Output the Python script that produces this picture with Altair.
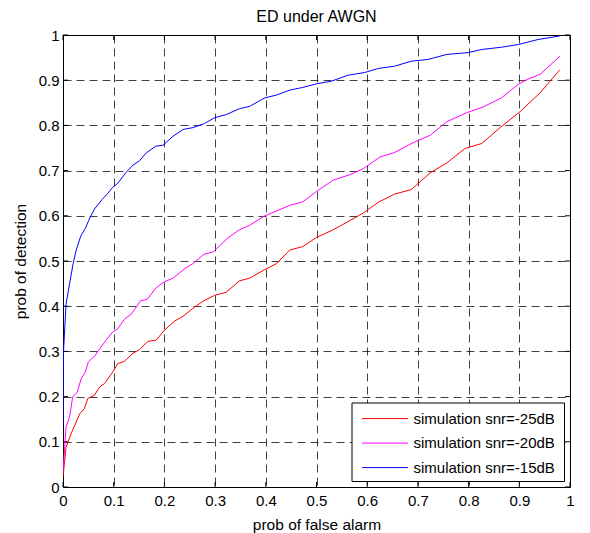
import altair as alt
import pandas as pd

red_x = [0, 0.006, 0.016, 0.033, 0.042, 0.049, 0.062, 0.072, 0.082, 0.098, 0.108, 0.121, 0.138, 0.151, 0.167,
         0.184, 0.200, 0.220, 0.237, 0.256, 0.276, 0.299, 0.322, 0.348, 0.368, 0.398, 0.421, 0.447, 0.473, 0.500,
         0.533, 0.562, 0.592, 0.622, 0.654, 0.687, 0.724, 0.757, 0.793, 0.826, 0.862, 0.901, 0.941, 0.980]
red_y = [0.022, 0.088, 0.118, 0.162, 0.173, 0.196, 0.203, 0.221, 0.229, 0.254, 0.273, 0.278, 0.296, 0.304, 0.322,
         0.325, 0.347, 0.367, 0.378, 0.395, 0.411, 0.424, 0.431, 0.456, 0.462, 0.481, 0.494, 0.524, 0.532, 0.552,
         0.569, 0.587, 0.606, 0.630, 0.648, 0.658, 0.695, 0.717, 0.749, 0.760, 0.795, 0.830, 0.872, 0.923]

magenta_x = [0, 0.003, 0.006, 0.013, 0.019, 0.028, 0.036, 0.044, 0.050, 0.062, 0.072, 0.085, 0.098, 0.108, 0.121,
             0.136, 0.153, 0.166, 0.184, 0.200, 0.217, 0.240, 0.256, 0.278, 0.296, 0.325, 0.348, 0.368, 0.398, 0.424,
             0.447, 0.473, 0.500, 0.533, 0.566, 0.592, 0.625, 0.654, 0.691, 0.724, 0.757, 0.796, 0.829, 0.865, 0.898,
             0.914, 0.941, 0.980]
magenta_y = [0.035, 0.081, 0.133, 0.155, 0.199, 0.210, 0.240, 0.254, 0.277, 0.289, 0.305, 0.325, 0.343, 0.350, 0.371,
             0.384, 0.412, 0.415, 0.441, 0.454, 0.462, 0.483, 0.494, 0.515, 0.520, 0.551, 0.569, 0.579, 0.600, 0.612,
             0.623, 0.631, 0.654, 0.679, 0.691, 0.704, 0.730, 0.740, 0.762, 0.778, 0.808, 0.828, 0.841, 0.861, 0.891,
             0.901, 0.913, 0.953]

blue_x = [0, 0.001, 0.006, 0.013, 0.020, 0.026, 0.035, 0.044, 0.052, 0.062, 0.077, 0.088, 0.098, 0.108, 0.125,
          0.138, 0.151, 0.164, 0.183, 0.197, 0.217, 0.237, 0.256, 0.279, 0.299, 0.322, 0.348, 0.368, 0.398, 0.421,
          0.447, 0.473, 0.500, 0.530, 0.562, 0.595, 0.622, 0.654, 0.687, 0.720, 0.757, 0.799, 0.826, 0.865, 0.898,
          0.937, 0.980]
blue_y = [0.135, 0.300, 0.404, 0.450, 0.494, 0.524, 0.555, 0.572, 0.593, 0.615, 0.636, 0.649, 0.663, 0.672, 0.697,
          0.712, 0.722, 0.739, 0.754, 0.756, 0.776, 0.791, 0.795, 0.804, 0.817, 0.824, 0.837, 0.842, 0.861, 0.867,
          0.878, 0.884, 0.892, 0.898, 0.911, 0.917, 0.926, 0.931, 0.942, 0.946, 0.957, 0.961, 0.968, 0.973, 0.979,
          0.990, 0.998]

series_names = ["simulation snr=-25dB", "simulation snr=-20dB", "simulation snr=-15dB"]
series_colors = ["#ff0000", "#ff00ff", "#0000ff"]
tick_values = [0, 0.1, 0.2, 0.3, 0.4, 0.5, 0.6, 0.7, 0.8, 0.9, 1]

rows = []
for name, xs, ys in zip(series_names, [red_x, magenta_x, blue_x], [red_y, magenta_y, blue_y]):
    for i, (a, b) in enumerate(zip(xs, ys)):
        rows.append({"series": name, "pfa": a, "pd": b, "idx": i})
df = pd.DataFrame(rows)
ticks = pd.DataFrame({"t": tick_values})
legend_df = pd.DataFrame({"series": series_names, "row": list(range(len(series_names)))})

W, H = 507, 452
FONT = "Liberation Sans"

xscale = alt.Scale(domain=[0, 1], nice=False)
yscale = alt.Scale(domain=[0, 1], nice=False)
cscale = alt.Scale(domain=series_names, range=series_colors)

lines = alt.Chart(df).mark_line(strokeWidth=1, clip=True).encode(
    x=alt.X("pfa:Q", scale=xscale, title="prob of false alarm",
            axis=alt.Axis(values=tick_values, format="~g", grid=True, ticks=False, labelFlush=False,
                          labelPadding=6, titlePadding=9)),
    y=alt.Y("pd:Q", scale=yscale, title="prob of detection",
            axis=alt.Axis(values=tick_values, format="~g", grid=True, ticks=False, labelFlush=False,
                          labelPadding=4, titlePadding=10)),
    color=alt.Color("series:N", scale=cscale, legend=None),
    order="idx:Q",
)

tk = alt.Chart(ticks)
tb = tk.mark_rule(color="#000", strokeWidth=1).encode(x=alt.X("t:Q", scale=xscale), y=alt.value(H), y2=alt.value(H - 5))
tt = tk.mark_rule(color="#000", strokeWidth=1).encode(x=alt.X("t:Q", scale=xscale), y=alt.value(0), y2=alt.value(5))
tl = tk.mark_rule(color="#000", strokeWidth=1).encode(y=alt.Y("t:Q", scale=yscale), x=alt.value(0), x2=alt.value(5))
tr = tk.mark_rule(color="#000", strokeWidth=1).encode(y=alt.Y("t:Q", scale=yscale), x=alt.value(W), x2=alt.value(W - 5))

# legend box in the lower right corner of the plot area
leg_box = alt.Chart(legend_df.head(1)).mark_rect(fill="#fff", stroke="#000", strokeWidth=1).encode(
    x=alt.value(289), x2=alt.value(501.5), y=alt.value(368), y2=alt.value(446.5))
leg_base = alt.Chart(legend_df).transform_calculate(ly="383.6 + 24.5 * datum.row")
leg_sym = leg_base.mark_rule(strokeWidth=1).encode(
    x=alt.value(299), x2=alt.value(345),
    y=alt.Y("ly:Q", scale=None, axis=None),
    color=alt.Color("series:N", scale=cscale, legend=None))
leg_txt = leg_base.mark_text(align="left", baseline="middle", font=FONT, fontSize=15, color="#000").encode(
    x=alt.value(350.5),
    y=alt.Y("ly:Q", scale=None, axis=None),
    text="series:N")

chart = alt.layer(tb, tt, tl, tr, lines, leg_box, leg_sym, leg_txt).properties(
    width=W, height=H,
    title=alt.Title("ED under AWGN", fontSize=16, font=FONT, fontWeight="normal", color="#000",
                    offset=3, frame="group"),
    autosize=alt.AutoSizeParams(type="none"),
    padding={"left": 55, "top": 27, "right": 12, "bottom": 46},
    background="#fff",
).configure_view(stroke="#000", strokeWidth=1).configure_axis(
    labelFont=FONT, labelFontSize=15, labelColor="#000",
    titleFont=FONT, titleFontSize=15.5, titleColor="#000", titleFontWeight="normal",
    domain=False, gridColor="#000", gridDash=[8, 5], gridOpacity=0.75, gridWidth=1,
)

chart.save("out.html", embed_options={"renderer": "svg", "actions": False})
